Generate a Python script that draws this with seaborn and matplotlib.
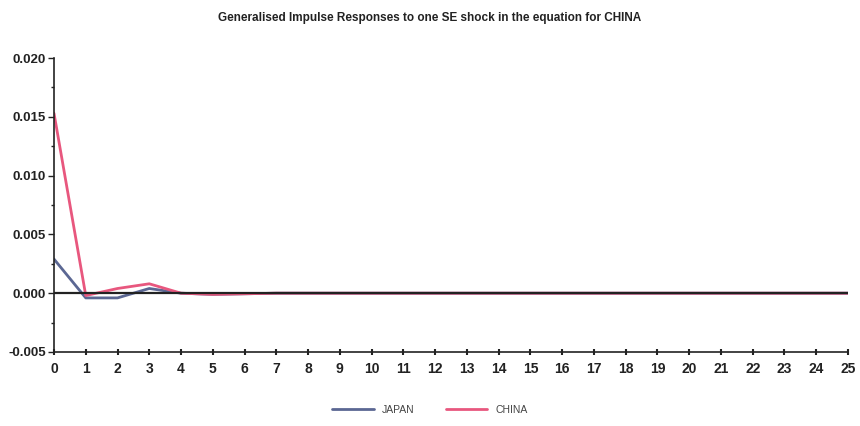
import numpy as np
import pandas as pd
import matplotlib
matplotlib.use("Agg")
import matplotlib.pyplot as plt
import seaborn as sns
from matplotlib.ticker import MultipleLocator

horizon = list(range(26))
japan = [0.0029, -0.0004, -0.0004, 0.0004, 0.0000, -0.0001, -0.00005, 0.0, 0.0, 0.0,
         0.0, 0.0, 0.0, 0.0, 0.0, 0.0, 0.0, 0.0, 0.0, 0.0,
         0.0, 0.0, 0.0, 0.0, 0.0, 0.0]
china = [0.0153, -0.0002, 0.0004, 0.0008, 0.0000, -0.0001, -0.00005, 0.0, 0.0, 0.0,
         0.0, 0.0, 0.0, 0.0, 0.0, 0.0, 0.0, 0.0, 0.0, 0.0,
         0.0, 0.0, 0.0, 0.0, 0.0, 0.0]
series_names = ["JAPAN", "CHINA"]
y_ticks = [-0.005, 0.000, 0.005, 0.010, 0.015, 0.020]

df = pd.DataFrame({"horizon": horizon * 2,
                   "response": japan + china,
                   "country": ["JAPAN"] * len(horizon) + ["CHINA"] * len(horizon)})

sns.set_theme(style="white")
plt.rcParams["font.family"] = ["Liberation Sans", "DejaVu Sans"]

fig = plt.figure(figsize=(8.6, 4.26), dpi=100)
ax = fig.add_axes([54 / 860, 1 - 352 / 426, (848 - 54) / 860, (352 - 58) / 426])

palette = {"JAPAN": "#5b6793", "CHINA": "#e8577e"}
sns.lineplot(data=df, x="horizon", y="response", hue="country", hue_order=series_names,
             palette=palette, lw=2.0, ax=ax, legend=False, zorder=2)

# zero reference line
ax.plot([0, 25], [0, 0], color="#222222", lw=1.6, zorder=3)

ax.set_xlim(0, 25)
ax.set_ylim(-0.005, 0.020)
ax.set_xticks(horizon)
ax.set_yticks(y_ticks)
ax.set_yticklabels([f"{v:.3f}" for v in y_ticks])
ax.yaxis.set_minor_locator(MultipleLocator(0.0025))
ax.set_xlabel("")
ax.set_ylabel("")

for s in ["top", "right"]:
    ax.spines[s].set_visible(False)
for s in ["left", "bottom"]:
    ax.spines[s].set_color("#222222")
    ax.spines[s].set_linewidth(1.2)

ax.tick_params(axis="y", which="major", left=True, length=4, width=1, color="#222222",
               labelsize=9.5, pad=2)
ax.tick_params(axis="y", which="minor", left=True, length=2, width=1, color="#222222")
ax.tick_params(axis="x", which="major", bottom=True, direction="inout", length=4, width=1.5,
               color="#222222", labelsize=10, pad=5)
for lab in ax.get_xticklabels() + ax.get_yticklabels():
    lab.set_fontweight("bold")
    lab.set_color("#222222")

fig.text(0.5, 1 - 18 / 426, "Generalised Impulse Responses to one SE shock in the equation for CHINA",
         ha="center", va="center", fontsize=8.5, fontweight="bold", color="#222222")

handles = [plt.Line2D([], [], color=palette[n], lw=2) for n in series_names]
fig.legend(handles, series_names, loc="center", bbox_to_anchor=(0.5, 1 - 410 / 426),
           ncol=2, frameon=False, fontsize=7.5, handlelength=4, columnspacing=3,
           labelcolor="#444444")

fig.savefig("out.png", dpi=100)
